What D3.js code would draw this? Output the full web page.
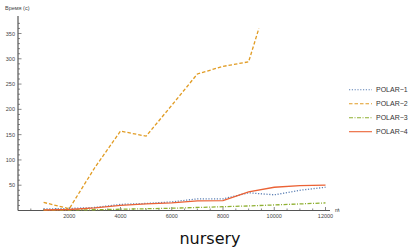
<!DOCTYPE html>
<html>
<head>
<meta charset="utf-8">
<script src="https://cdn.jsdelivr.net/npm/d3@7"></script>
<style>
body { margin: 0; background: #fff; }
text { font-family: "Liberation Sans", Arial, sans-serif; }
</style>
</head>
<body>
<div id="chart"></div>
<script>
var w = 411, h = 248;

// chart data
var seriesNames = ["POLAR\u22121", "POLAR\u22122", "POLAR\u22123", "POLAR\u22124"];
var sizes = [1000, 2000, 3000, 4000, 5000, 6000, 7000, 8000, 9000, 10000, 11000, 12000];
var sizes2 = [1000, 2000, 3000, 4000, 5000, 6000, 7000, 8000, 9000, 9400];
var polar1 = [3, 4, 6, 12, 14, 17, 23, 23, 35, 31, 40, 46];
var polar2 = [16, 3.5, 85, 157, 147, 208, 270, 285, 294, 360];
var polar3 = [0.5, 1, 1.5, 2.5, 3.5, 4.5, 6, 7.5, 9, 11, 13, 15];
var polar4 = [1, 2, 5, 10, 13, 15, 19, 19.5, 37, 46, 49, 50];
var xTicks = [2000, 4000, 6000, 8000, 10000, 12000];
var yTicks = [50, 100, 150, 200, 250, 300, 350];

var colors = ["#5E81B5", "#E19C24", "#8FB032", "#EB6235"];
var dashes = ["1.2,1.6", "3.5,2", "4,1.5,1,1.5", null];

var series = [
  { name: seriesNames[0], xs: sizes, ys: polar1 },
  { name: seriesNames[1], xs: sizes2, ys: polar2 },
  { name: seriesNames[2], xs: sizes, ys: polar3 },
  { name: seriesNames[3], xs: sizes, ys: polar4 }
];

var svg = d3.select('#chart').append('svg')
  .attr('width', w)
  .attr('height', h);

var x = d3.scaleLinear().domain([0, 12000]).range([18, 325.5]);
var y = d3.scaleLinear().domain([0, 350]).range([210.5, 33.5]);

var axisColor = "#555";

// minor ticks
var g = svg.append('g');
d3.range(0, 12501, 500).forEach(function(v) {
  if (v == 0) return;
  var major = v % 2000 == 0;
  g.append('line').attr('x1', x(v)).attr('x2', x(v))
    .attr('y1', y(0)).attr('y2', y(0) - (major ? 3.5 : 2))
    .attr('stroke', axisColor).attr('stroke-width', 0.7);
});
d3.range(0, 371, 10).forEach(function(v) {
  if (v == 0) return;
  var major = v % 50 == 0;
  g.append('line').attr('y1', y(v)).attr('y2', y(v))
    .attr('x1', x(0)).attr('x2', x(0) + (major ? 3.5 : 2))
    .attr('stroke', axisColor).attr('stroke-width', 0.7);
});

// axes lines
svg.append('line').attr('x1', x(0)).attr('x2', 330).attr('y1', y(0)).attr('y2', y(0))
  .attr('stroke', axisColor).attr('stroke-width', 1.2);
svg.append('line').attr('x1', x(0)).attr('x2', x(0)).attr('y1', y(0)).attr('y2', 16)
  .attr('stroke', axisColor).attr('stroke-width', 1.2);

// tick labels
svg.selectAll('.xl').data(xTicks).enter().append('text')
  .attr('x', function(d) { return x(d); })
  .attr('y', y(0) + 7.5)
  .attr('text-anchor', 'middle')
  .attr('font-size', 5.5)
  .attr('fill', '#444')
  .text(function(d) { return d; });

svg.selectAll('.yl').data(yTicks).enter().append('text')
  .attr('x', x(0) - 3)
  .attr('y', function(d) { return y(d) + 2; })
  .attr('text-anchor', 'end')
  .attr('font-size', 5.5)
  .attr('fill', '#444')
  .text(function(d) { return d; });

svg.append('text').attr('x', 5).attr('y', 10).attr('font-size', 5.5).attr('fill', '#444').text('Время (с)');
svg.append('text').attr('x', 335).attr('y', 212).attr('font-size', 5.5).attr('fill', '#444').text('m');

// lines
var line = d3.line()
  .x(function(d) { return x(d[0]); })
  .y(function(d) { return y(d[1]); });

series.forEach(function(s, i) {
  svg.append('path')
    .datum(d3.zip(s.xs, s.ys))
    .attr('d', line)
    .attr('fill', 'none')
    .attr('stroke', colors[i])
    .attr('stroke-width', 1.3)
    .attr('stroke-dasharray', dashes[i]);
});

// legend
series.forEach(function(s, i) {
  var ly = 89.7 + i * 14;
  svg.append('line').attr('x1', 349).attr('x2', 372).attr('y1', ly).attr('y2', ly)
    .attr('stroke', colors[i]).attr('stroke-width', 1.1)
    .attr('stroke-dasharray', dashes[i]);
  svg.append('text').attr('x', 376).attr('y', ly + 2.5)
    .attr('font-size', 7).attr('fill', '#333').text(s.name);
});

svg.append('text').attr('x', 210).attr('y', 243.5)
  .attr('text-anchor', 'middle').attr('font-size', 16)
  .attr('fill', '#111')
  .style('font-family', '"DejaVu Sans", sans-serif')
  .text('nursery');
</script>
</body>
</html>
